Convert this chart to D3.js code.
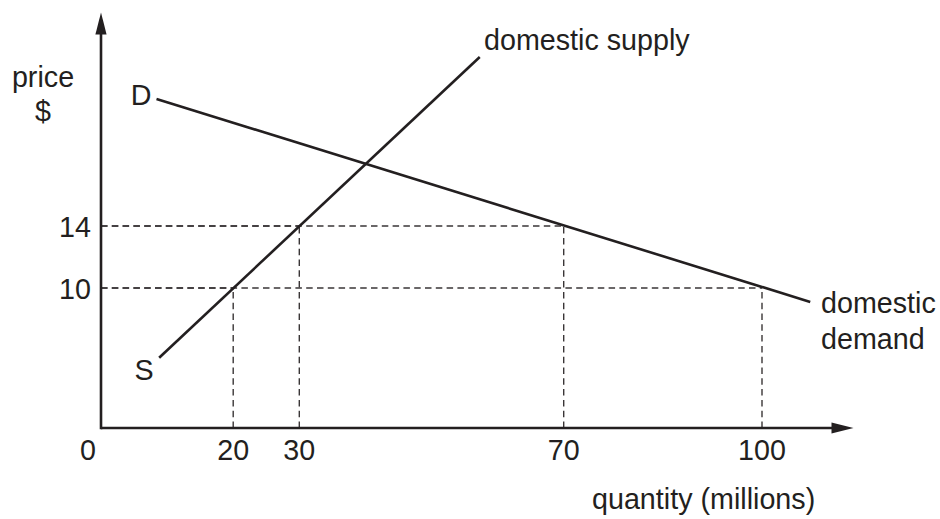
<!DOCTYPE html>
<html>
<head>
<meta charset="utf-8">
<script src="https://cdn.jsdelivr.net/npm/d3@7"></script>
<style>
  html, body { margin: 0; padding: 0; background: #fff; }
  svg { display: block; }
  text { font-family: "Liberation Sans", Arial, Helvetica, sans-serif; fill: #231f20; }
</style>
</head>
<body>
<svg id="chart" width="940" height="519"></svg>
<script>
// ---- data ----
const xTickValues = [20, 30, 70, 100];
const xTickLabels = ["20", "30", "70", "100"];
const yTickValues = [10, 14];
const yTickLabels = ["10", "14"];
// curve end points [quantity, price]
const supplyPoints = [[8.8, 5.5], [57.3, 24.9]];
const demandPoints = [[8.4, 22.2], [107.3, 9.1]];
// reference (dashed) points on the curves [quantity, price]
const guidePoints = [[20, 10], [30, 14], [70, 14], [100, 10]];
const axisLabelX = "quantity (millions)";
const axisLabelY = ["price", "$"];
const supplyLabel = "domestic supply";
const demandLabel = ["domestic", "demand"];

// ---- layout ----
const ink = "#231f20";
const svg = d3.select("#chart");
const originX = 101, originY = 428;
const x = d3.scaleLinear().domain([0, 100]).range([originX, 762]);
const y = d3.scaleLinear().domain([10, 14]).range([288, 226]);

// dashed guides
const g = svg.append("g");
guidePoints.forEach(([q, p]) => {
  g.append("line").attr("x1", originX).attr("x2", x(q)).attr("y1", y(p)).attr("y2", y(p));
  g.append("line").attr("x1", x(q)).attr("x2", x(q)).attr("y1", originY).attr("y2", y(p));
});
g.selectAll("line")
  .attr("stroke", "#3a3637").attr("stroke-width", 1.4)
  .attr("stroke-dasharray", "6.5,4.3");

// curves
const line = d3.line().x(d => x(d[0])).y(d => y(d[1]));
[supplyPoints, demandPoints].forEach(pts => {
  svg.append("path").attr("d", line(pts))
    .attr("fill", "none").attr("stroke", ink).attr("stroke-width", 2.6);
});

// axes
svg.append("line").attr("x1", originX).attr("x2", 834).attr("y1", originY).attr("y2", originY)
  .attr("stroke", ink).attr("stroke-width", 2.6);
svg.append("line").attr("x1", originX).attr("x2", originX).attr("y1", originY + 1.3).attr("y2", 32)
  .attr("stroke", ink).attr("stroke-width", 2.6);
svg.append("path").attr("d", `M853.5,${originY} L831.5,${originY - 5.6} L831.5,${originY + 5.6} Z`).attr("fill", ink);
svg.append("path").attr("d", `M${originX},12.5 L${originX - 5.6},34.5 L${originX + 5.6},34.5 Z`).attr("fill", ink);

const fs = 28.7;
function txt(s, tx, ty, anchor) {
  return svg.append("text").attr("x", tx).attr("y", ty)
    .attr("text-anchor", anchor || "start").attr("font-size", fs).text(s);
}

// tick labels
xTickValues.forEach((v, i) => txt(xTickLabels[i], x(v), 460, "middle"));
txt("0", x(0) - 13, 460, "middle");
yTickValues.forEach((v, i) => txt(yTickLabels[i], 91, y(v) + 10.5, "end"));

// axis titles
txt(axisLabelY[0], 43, 87, "middle");
txt(axisLabelY[1], 43, 121, "middle");
txt(axisLabelX, 592, 509, "start");

// curve labels
txt("D", 141, 105, "middle");
txt("S", 144, 380, "middle");
txt(supplyLabel, 484, 50, "start");
txt(demandLabel[0], 821, 313, "start");
txt(demandLabel[1], 821, 349, "start");
</script>
</body>
</html>
